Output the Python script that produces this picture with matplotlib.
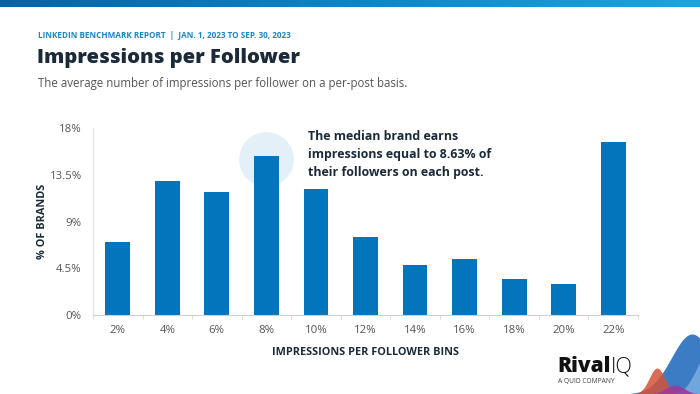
import numpy as np
import matplotlib
matplotlib.use("Agg")
import matplotlib.pyplot as plt
from matplotlib.colors import LinearSegmentedColormap

# data
bins = ["2%", "4%", "6%", "8%", "10%", "12%", "14%", "16%", "18%", "20%", "22%"]
share = [7.0, 12.9, 11.8, 15.35, 12.1, 7.55, 4.85, 5.35, 3.45, 3.0, 16.7]
y_ticks = [0, 4.5, 9, 13.5, 18]
y_labels = ["0%", "4.5%", "9%", "13.5%", "18%"]

plt.rcParams["font.family"] = ["Open Sans", "DejaVu Sans"]

W, H = 700, 394
fig = plt.figure(figsize=(W / 100, H / 100), dpi=100)
fig.patch.set_facecolor("white")

navy = "#1b2a3a"
bar_blue = "#0275bd"
grey = "#555555"

# top gradient strip
band = fig.add_axes([0, 1 - 7 / H, 1, 7 / H])
cmap = LinearSegmentedColormap.from_list("hdr", ["#0763a6", "#0a86c8", "#19a6e0"])
band.imshow(np.linspace(0, 1, 256)[None, :], aspect="auto", cmap=cmap)
band.axis("off")

# header texts
fig.text(38 / W, 1 - 35 / H, "LINKEDIN BENCHMARK REPORT  |  JAN. 1, 2023 TO SEP. 30, 2023",
         color="#1a86c7", fontsize=5.9, fontweight="bold", va="center")
fig.text(37 / W, 1 - 58 / H, "Impressions per Follower", color=navy,
         fontsize=14.6, fontweight="heavy", va="center")
fig.text(38 / W, 1 - 84 / H, "The average number of impressions per follower on a per-post basis.",
         color="#555555", fontsize=8.3, va="center")

# main chart
ax = fig.add_axes([93 / W, 1 - 315 / H, 545 / W, 187 / H])
x = np.arange(len(bins))
ax.scatter([3], [14.99], s=1550, color="#e4f0f8", zorder=0, clip_on=False, linewidths=0)
ax.bar(x, share, width=0.5, color=bar_blue, zorder=2)
ax.set_xlim(-0.5, len(bins) - 0.5)
ax.set_ylim(0, 18)
ax.set_yticks(y_ticks)
ax.set_yticklabels(y_labels)
ax.set_xticks(x)
ax.set_xticklabels(bins)
ax.set_xticks(np.arange(len(bins) + 1) - 0.5, minor=True)
ax.tick_params(axis="x", which="major", length=0, pad=7, labelsize=8.2, labelcolor=grey)
ax.tick_params(axis="x", which="minor", length=3, color="#d8d8d8")
ax.tick_params(axis="y", length=0, pad=8, labelsize=8.2, labelcolor=grey)
for s in ["top", "right"]:
    ax.spines[s].set_visible(False)
ax.spines["left"].set_color("#e2e2e2")
ax.spines["bottom"].set_color("#d0d0d0")
ax.set_facecolor("none")

ax.set_ylabel("% OF BRANDS", fontsize=7.8, fontweight="bold", color=navy, labelpad=1)
ax.set_xlabel("IMPRESSIONS PER FOLLOWER BINS", fontsize=7.8, fontweight="bold",
              color=navy, labelpad=8)

fig.text(308 / W, 1 - 130 / H,
         "The median brand earns\nimpressions equal to 8.63% of\ntheir followers on each post.",
         color=navy, fontsize=8.9, fontweight="bold", va="top", linespacing=1.5)

# decorative waves bottom right (pixel coordinates)
deco = fig.add_axes([0, 0, 1, 1], zorder=-1)
deco.set_xlim(0, W)
deco.set_ylim(H, 0)
deco.axis("off")
t = np.linspace(620, 700, 300)
deco.fill_between(t, H, H - 60 * np.exp(-((t - 692) / 29) ** 2), color="#3b7cc4", lw=0)
deco.fill_between(t, H, H - 40 * np.exp(-((t - 708) / 17) ** 2), color="#6fa6de", lw=0)
deco.fill_between(t, H, H - 26 * np.exp(-((t - 657) / 11) ** 2), color="#d2533a", lw=0, alpha=0.85)
deco.fill_between(t, H, H - 9 * np.exp(-((t - 675) / 13) ** 2), color="#9a3c9e", lw=0, alpha=0.9)

# logo
fig.text(557 / W, 1 - 367 / H, "Rival", color="#111111", fontsize=15,
         fontweight="heavy", va="center")
fig.text(611 / W, 1 - 367 / H, "IQ", color="#111111", fontsize=15.5,
         fontweight="light", va="center")
fig.text(558 / W, 1 - 381 / H, "A QUID COMPANY", color="#444444", fontsize=4.8, va="center")

fig.savefig("out.png", dpi=100, facecolor="white")
